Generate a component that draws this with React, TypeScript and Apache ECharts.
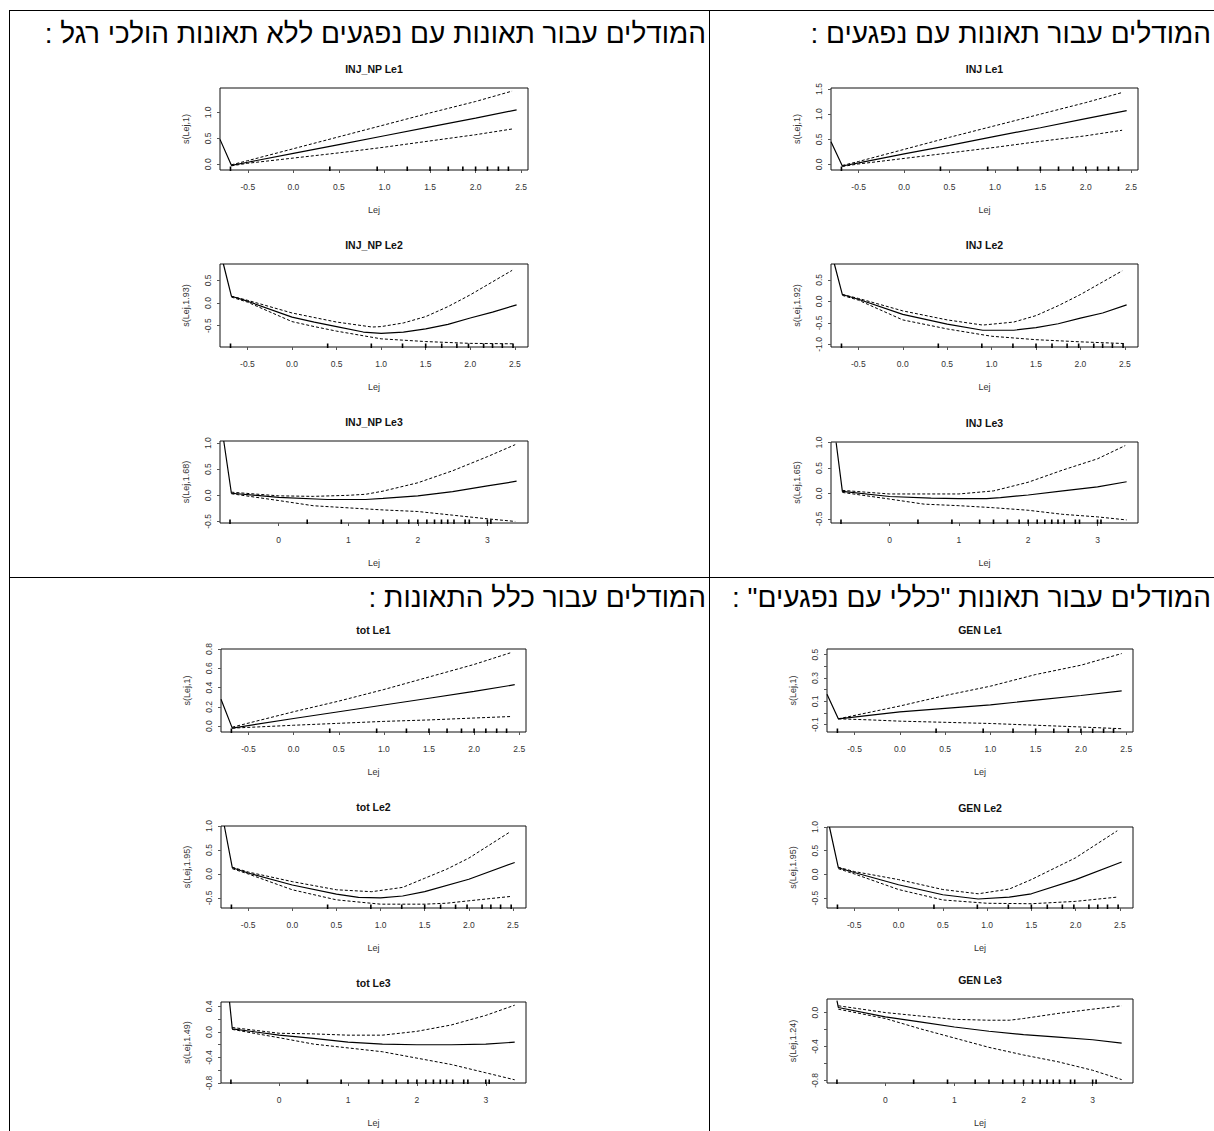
import React, { useEffect, useRef } from 'react';
import * as echarts from 'echarts';

const FONT = '"Liberation Sans", Arial, Helvetica, sans-serif';
const HEAD_FONT = '"Liberation Sans", Arial, sans-serif';
const RLM = '\u200F';

// Cell headings (Hebrew, right-to-left)
const headingInjNp = 'המודלים עבור תאונות עם נפגעים ללא תאונות הולכי רגל :';
const headingInj = 'המודלים עבור תאונות עם נפגעים :';
const headingTot = 'המודלים עבור כלל התאונות :';
const headingGen = 'המודלים עבור תאונות "כללי עם נפגעים" :';

// Axis ticks
const ticksLe12 = [-0.5, 0, 0.5, 1, 1.5, 2, 2.5];
const ticksLe3 = [0, 1, 2, 3];

// Rug (observed Lej values)
const rugLe1 = [-0.69, 0.4, 0.92, 1.25, 1.5, 1.7, 1.86, 2.0, 2.13, 2.25, 2.36];
const rugLe2 = [-0.69, 0.4, 0.89, 1.24, 1.5, 1.68, 1.85, 1.98, 2.15, 2.25, 2.36, 2.48];
const rugLe3 = [-0.7, 0.41, 0.9, 1.3, 1.5, 1.7, 1.87, 2.0, 2.13, 2.24, 2.34, 2.43, 2.52, 2.68, 2.74, 3.0, 3.05];

// INJ_NP smooths: [Lej, s(Lej)]
const injNpLe1Fit = [[-0.805, 0.48], [-0.68, -0.02], [-0.5, 0.04], [0, 0.21], [0.5, 0.38], [1, 0.55], [1.5, 0.72], [2, 0.89], [2.45, 1.05]];
const injNpLe1Upper = [[-0.68, -0.01], [-0.5, 0.07], [0, 0.3], [0.5, 0.53], [1, 0.76], [1.5, 0.99], [2, 1.21], [2.4, 1.41]];
const injNpLe1Lower = [[-0.68, -0.03], [-0.5, 0.02], [0, 0.12], [0.5, 0.22], [1, 0.33], [1.5, 0.45], [2, 0.57], [2.4, 0.68]];

const injNpLe2Fit = [[-0.77, 0.86], [-0.68, 0.15], [-0.5, 0.04], [0, -0.31], [0.25, -0.42], [0.5, -0.52], [0.8, -0.64], [1, -0.67], [1.25, -0.64], [1.5, -0.57], [1.75, -0.47], [2, -0.33], [2.25, -0.2], [2.52, -0.04]];
const injNpLe2Upper = [[-0.68, 0.15], [-0.5, 0.06], [0, -0.22], [0.5, -0.42], [0.9, -0.53], [1, -0.52], [1.25, -0.44], [1.5, -0.3], [1.75, -0.08], [2, 0.18], [2.47, 0.72]];
const injNpLe2Lower = [[-0.68, 0.13], [-0.5, 0.02], [0, -0.41], [0.25, -0.52], [0.5, -0.62], [1, -0.79], [1.5, -0.85], [2, -0.89], [2.5, -0.9]];

const injNpLe3Fit = [[-0.79, 1.04], [-0.68, 0.04], [0, -0.04], [0.7, -0.08], [1.25, -0.08], [1.5, -0.06], [2, -0.01], [2.5, 0.07], [3, 0.18], [3.42, 0.27]];
const injNpLe3Upper = [[-0.68, 0.06], [0, -0.01], [0.5, -0.02], [1, 0.0], [1.25, 0.02], [1.5, 0.08], [2, 0.24], [2.5, 0.47], [3, 0.74], [3.4, 0.97]];
const injNpLe3Lower = [[-0.68, 0.03], [0, -0.1], [0.5, -0.2], [1, -0.24], [1.5, -0.28], [2, -0.31], [2.5, -0.38], [3, -0.45], [3.4, -0.5]];

// INJ smooths
const injLe1Fit = [[-0.805, 0.45], [-0.68, -0.03], [-0.5, 0.03], [0, 0.21], [0.5, 0.38], [1, 0.56], [1.5, 0.73], [2, 0.91], [2.45, 1.07]];
const injLe1Upper = [[-0.68, -0.02], [-0.5, 0.06], [0, 0.3], [0.5, 0.54], [1, 0.77], [1.5, 1.0], [2, 1.23], [2.4, 1.43]];
const injLe1Lower = [[-0.68, -0.04], [-0.5, 0.01], [0, 0.12], [0.5, 0.23], [1, 0.34], [1.5, 0.46], [2, 0.57], [2.4, 0.68]];

const injLe2Fit = [[-0.77, 0.87], [-0.68, 0.16], [-0.5, 0.05], [0, -0.3], [0.5, -0.53], [0.9, -0.67], [1.25, -0.67], [1.5, -0.61], [1.75, -0.52], [2, -0.39], [2.25, -0.27], [2.52, -0.08]];
const injLe2Upper = [[-0.68, 0.16], [-0.5, 0.07], [0, -0.22], [0.5, -0.43], [0.9, -0.55], [1.25, -0.48], [1.5, -0.33], [1.75, -0.1], [2, 0.16], [2.47, 0.71]];
const injLe2Lower = [[-0.68, 0.14], [-0.5, 0.03], [0, -0.43], [0.5, -0.64], [1, -0.81], [1.5, -0.89], [2, -0.94], [2.5, -0.98]];

const injLe3Fit = [[-0.77, 1.0], [-0.68, 0.04], [0, -0.06], [0.6, -0.09], [1, -0.1], [1.4, -0.1], [1.6, -0.08], [2, -0.03], [2.5, 0.05], [3, 0.13], [3.42, 0.23]];
const injLe3Upper = [[-0.68, 0.06], [0, -0.01], [1, -0.01], [1.5, 0.05], [2, 0.22], [2.5, 0.46], [3, 0.68], [3.4, 0.94]];
const injLe3Lower = [[-0.68, 0.02], [0, -0.11], [0.5, -0.21], [1, -0.24], [1.5, -0.28], [2, -0.33], [2.5, -0.41], [3, -0.46], [3.42, -0.52]];

// tot smooths
const totLe1Fit = [[-0.805, 0.28], [-0.68, -0.02], [0, 0.08], [0.5, 0.15], [1, 0.22], [1.5, 0.29], [2, 0.36], [2.45, 0.43]];
const totLe1Upper = [[-0.68, -0.01], [0, 0.15], [0.5, 0.26], [1, 0.38], [1.5, 0.51], [2, 0.64], [2.4, 0.76]];
const totLe1Lower = [[-0.68, -0.02], [0, 0.01], [0.5, 0.03], [1, 0.05], [1.5, 0.065], [2, 0.085], [2.4, 0.1]];

const totLe2Fit = [[-0.77, 1.0], [-0.68, 0.13], [-0.5, 0.02], [0, -0.23], [0.5, -0.42], [0.75, -0.49], [1, -0.5], [1.25, -0.46], [1.5, -0.37], [2, -0.11], [2.52, 0.24]];
const totLe2Upper = [[-0.68, 0.14], [-0.5, 0.04], [0, -0.16], [0.5, -0.33], [0.9, -0.37], [1.25, -0.28], [1.5, -0.09], [1.75, 0.1], [2, 0.33], [2.47, 0.88]];
const totLe2Lower = [[-0.68, 0.11], [-0.5, 0.0], [0, -0.33], [0.5, -0.54], [1, -0.63], [1.5, -0.63], [1.75, -0.61], [2, -0.56], [2.47, -0.47]];

const totLe3Fit = [[-0.72, 0.47], [-0.68, 0.05], [0, -0.05], [0.5, -0.1], [1, -0.16], [1.5, -0.19], [2, -0.2], [2.5, -0.2], [3, -0.19], [3.42, -0.16]];
const totLe3Upper = [[-0.68, 0.07], [0, -0.02], [0.5, -0.03], [1, -0.05], [1.5, -0.05], [2, 0.01], [2.5, 0.11], [3, 0.26], [3.42, 0.42]];
const totLe3Lower = [[-0.68, 0.04], [0, -0.09], [0.5, -0.19], [1, -0.25], [1.5, -0.31], [2, -0.41], [2.5, -0.51], [3, -0.64], [3.42, -0.75]];

// GEN smooths
const genLe1Fit = [[-0.805, 0.16], [-0.68, -0.05], [0, 0.01], [0.5, 0.04], [1, 0.07], [1.5, 0.11], [2, 0.15], [2.45, 0.19]];
const genLe1Upper = [[-0.68, -0.05], [0, 0.06], [0.5, 0.15], [1, 0.23], [1.5, 0.33], [2, 0.41], [2.45, 0.51]];
const genLe1Lower = [[-0.68, -0.05], [-0.3, -0.06], [0, -0.07], [0.5, -0.08], [1, -0.09], [1.5, -0.105], [2, -0.12], [2.45, -0.135]];

const genLe2Fit = [[-0.78, 1.0], [-0.68, 0.14], [-0.5, 0.04], [0, -0.22], [0.5, -0.43], [0.9, -0.52], [1.25, -0.48], [1.5, -0.41], [2, -0.11], [2.52, 0.26]];
const genLe2Upper = [[-0.68, 0.15], [-0.5, 0.06], [0, -0.11], [0.5, -0.32], [0.9, -0.41], [1.25, -0.31], [1.5, -0.11], [2, 0.35], [2.47, 0.92]];
const genLe2Lower = [[-0.68, 0.12], [-0.5, 0.01], [0, -0.32], [0.5, -0.54], [1, -0.61], [1.5, -0.62], [2, -0.57], [2.47, -0.48]];

const genLe3Fit = [[-0.7, 0.14], [-0.68, 0.06], [0, -0.05], [0.5, -0.11], [1, -0.17], [1.5, -0.22], [2, -0.26], [2.5, -0.29], [3, -0.32], [3.42, -0.36]];
const genLe3Upper = [[-0.68, 0.08], [0, 0.0], [0.5, -0.04], [1, -0.08], [1.5, -0.09], [1.8, -0.09], [2, -0.07], [2.5, -0.01], [3, 0.04], [3.42, 0.08]];
const genLe3Lower = [[-0.68, 0.04], [0, -0.07], [0.5, -0.19], [1, -0.3], [1.5, -0.41], [2, -0.5], [2.5, -0.58], [3, -0.68], [3.42, -0.79]];

// Panel specs: cell 0 = top-left, 1 = top-right, 2 = bottom-left, 3 = bottom-right
const panels = [
  { cell: 0, row: 0, title: 'INJ_NP Le1', yName: 's(Lej,1)', x: [-0.805, 2.575], xTicks: ticksLe12, xDigits: 1, y: [-0.11, 1.47], yTicks: [0, 0.5, 1], yLabels: [0, 0.5, 1], fit: injNpLe1Fit, upper: injNpLe1Upper, lower: injNpLe1Lower, rug: rugLe1 },
  { cell: 0, row: 1, title: 'INJ_NP Le2', yName: 's(Lej,1.93)', x: [-0.808, 2.648], xTicks: ticksLe12, xDigits: 1, y: [-0.97, 0.86], yTicks: [-0.5, 0, 0.5], yLabels: [-0.5, 0, 0.5], fit: injNpLe2Fit, upper: injNpLe2Upper, lower: injNpLe2Lower, rug: rugLe2 },
  { cell: 0, row: 2, title: 'INJ_NP Le3', yName: 's(Lej,1.68)', x: [-0.844, 3.584], xTicks: ticksLe3, xDigits: 0, y: [-0.53, 1.04], yTicks: [-0.5, 0, 0.5, 1], yLabels: [-0.5, 0, 0.5, 1], fit: injNpLe3Fit, upper: injNpLe3Upper, lower: injNpLe3Lower, rug: rugLe3 },
  { cell: 1, row: 0, title: 'INJ Le1', yName: 's(Lej,1)', x: [-0.805, 2.575], xTicks: ticksLe12, xDigits: 1, y: [-0.11, 1.52], yTicks: [0, 0.5, 1, 1.5], yLabels: [0, 0.5, 1, 1.5], fit: injLe1Fit, upper: injLe1Upper, lower: injLe1Lower, rug: rugLe1 },
  { cell: 1, row: 1, title: 'INJ Le2', yName: 's(Lej,1.92)', x: [-0.808, 2.648], xTicks: ticksLe12, xDigits: 1, y: [-1.06, 0.87], yTicks: [-1, -0.5, 0, 0.5], yLabels: [-1, -0.5, 0, 0.5], fit: injLe2Fit, upper: injLe2Upper, lower: injLe2Lower, rug: rugLe2 },
  { cell: 1, row: 2, title: 'INJ Le3', yName: 's(Lej,1.65)', x: [-0.844, 3.584], xTicks: ticksLe3, xDigits: 0, y: [-0.58, 1.01], yTicks: [-0.5, 0, 0.5, 1], yLabels: [-0.5, 0, 0.5, 1], fit: injLe3Fit, upper: injLe3Upper, lower: injLe3Lower, rug: rugLe3 },
  { cell: 2, row: 0, title: 'tot Le1', yName: 's(Lej,1)', x: [-0.805, 2.575], xTicks: ticksLe12, xDigits: 1, y: [-0.06, 0.8], yTicks: [0, 0.2, 0.4, 0.6, 0.8], yLabels: [0, 0.2, 0.4, 0.6, 0.8], fit: totLe1Fit, upper: totLe1Upper, lower: totLe1Lower, rug: rugLe1 },
  { cell: 2, row: 1, title: 'tot Le2', yName: 's(Lej,1.95)', x: [-0.808, 2.648], xTicks: ticksLe12, xDigits: 1, y: [-0.71, 1.0], yTicks: [-0.5, 0, 0.5, 1], yLabels: [-0.5, 0, 0.5, 1], fit: totLe2Fit, upper: totLe2Upper, lower: totLe2Lower, rug: rugLe2 },
  { cell: 2, row: 2, title: 'tot Le3', yName: 's(Lej,1.49)', x: [-0.844, 3.584], xTicks: ticksLe3, xDigits: 0, y: [-0.8, 0.47], yTicks: [-0.8, -0.6, -0.4, -0.2, 0, 0.2, 0.4], yLabels: [-0.8, -0.4, 0, 0.4], fit: totLe3Fit, upper: totLe3Upper, lower: totLe3Lower, rug: rugLe3 },
  { cell: 3, row: 0, title: 'GEN Le1', yName: 's(Lej,1)', x: [-0.805, 2.575], xTicks: ticksLe12, xDigits: 1, y: [-0.163, 0.549], yTicks: [-0.1, 0, 0.1, 0.2, 0.3, 0.4, 0.5], yLabels: [-0.1, 0.1, 0.3, 0.5], fit: genLe1Fit, upper: genLe1Upper, lower: genLe1Lower, rug: rugLe1 },
  { cell: 3, row: 1, title: 'GEN Le2', yName: 's(Lej,1.95)', x: [-0.808, 2.648], xTicks: ticksLe12, xDigits: 1, y: [-0.71, 1.0], yTicks: [-0.5, 0, 0.5, 1], yLabels: [-0.5, 0, 0.5, 1], fit: genLe2Fit, upper: genLe2Upper, lower: genLe2Lower, rug: rugLe2 },
  { cell: 3, row: 2, title: 'GEN Le3', yName: 's(Lej,1.24)', x: [-0.844, 3.584], xTicks: ticksLe3, xDigits: 0, y: [-0.83, 0.16], yTicks: [-0.8, -0.6, -0.4, -0.2, 0], yLabels: [-0.8, -0.4, 0], fit: genLe3Fit, upper: genLe3Upper, lower: genLe3Lower, rug: rugLe3 },
];

// Page layout (pixels)
const plotLeft = [220, 831, 221, 827];
const plotWidth = [308, 307, 305, 306];
const plotTops = [[88, 264, 441], [88, 264, 442], [649, 826, 1002], [649, 827, 999]];
const plotBottoms = [[170, 347, 523], [170, 347, 523], [732, 908, 1083], [732, 908, 1083]];

const W = 1214;
const H = 1131;

function buildOption() {
  const grid: any[] = [];
  const xAxis: any[] = [];
  const yAxis: any[] = [];
  const series: any[] = [];
  const graphic: any[] = [];

  // table rules
  const rule = (x1: number, y1: number, x2: number, y2: number) => ({
    type: 'line',
    silent: true,
    shape: { x1, y1, x2, y2 },
    style: { stroke: '#000', lineWidth: 1 },
  });
  graphic.push(rule(9, 10.5, W, 10.5));
  graphic.push(rule(9.5, 10, 9.5, H));
  graphic.push(rule(709.5, 10, 709.5, H));
  graphic.push(rule(9, 577.5, W, 577.5));

  const heading = (text: string, x: number, y: number) => ({
    type: 'text',
    silent: true,
    x,
    y,
    style: {
      text: text + RLM,
      fill: '#000',
      font: `28px ${HEAD_FONT}`,
      fontSize: 28,
      fontFamily: HEAD_FONT,
      align: 'right',
      textAlign: 'right',
      verticalAlign: 'middle',
      textVerticalAlign: 'middle',
    },
  });
  graphic.push(heading(headingInjNp, 706, 33));
  graphic.push(heading(headingInj, 1211, 33));
  graphic.push(heading(headingTot, 706, 597));
  graphic.push(heading(headingGen, 1211, 597));

  panels.forEach((p, i) => {
    const left = plotLeft[p.cell];
    const width = plotWidth[p.cell];
    const top = plotTops[p.cell][p.row];
    const height = plotBottoms[p.cell][p.row] - top;

    grid.push({
      left,
      top,
      width,
      height,
      show: true,
      borderColor: '#111',
      borderWidth: 1,
      backgroundColor: 'transparent',
      containLabel: false,
      outerBoundsMode: 'none',
    });

    xAxis.push({
      type: 'value',
      gridIndex: i,
      position: 'bottom',
      min: p.x[0],
      max: p.x[1],
      name: 'Lej',
      nameLocation: 'middle',
      nameGap: 35,
      nameTextStyle: { fontSize: 9, fontFamily: FONT, color: '#333' },
      axisLine: { show: false, onZero: false },
      splitLine: { show: false },
      axisTick: { show: true, length: 3, customValues: p.xTicks, lineStyle: { color: '#555', width: 1 } },
      axisLabel: {
        customValues: p.xTicks,
        margin: 12,
        fontSize: 8.5,
        fontFamily: FONT,
        color: '#333',
        formatter: (v: number) => v.toFixed(p.xDigits),
      },
    });

    yAxis.push({
      type: 'value',
      gridIndex: i,
      position: 'left',
      min: p.y[0],
      max: p.y[1],
      name: p.yName,
      nameLocation: 'middle',
      nameGap: 30,
      nameTextStyle: { fontSize: 9, fontFamily: FONT, color: '#333' },
      axisLine: { show: false, onZero: false },
      splitLine: { show: false },
      axisTick: { show: true, length: 3, customValues: p.yTicks, lineStyle: { color: '#555', width: 1 } },
      axisLabel: {
        customValues: p.yLabels,
        rotate: 90,
        margin: 8,
        fontSize: 8.5,
        fontFamily: FONT,
        color: '#333',
        formatter: (v: number) => v.toFixed(1),
      },
    });

    series.push({
      type: 'line',
      xAxisIndex: i,
      yAxisIndex: i,
      data: p.fit,
      showSymbol: false,
      symbol: 'none',
      silent: true,
      clip: true,
      lineStyle: { color: '#000', width: 1.2, type: 'solid' },
    });
    [p.upper, p.lower].forEach((band) => {
      series.push({
        type: 'line',
        xAxisIndex: i,
        yAxisIndex: i,
        data: band,
        showSymbol: false,
        symbol: 'none',
        silent: true,
        clip: true,
        lineStyle: { color: '#000', width: 1, type: [3, 2] },
      });
    });

    // rug along the bottom edge
    series.push({
      type: 'custom',
      xAxisIndex: i,
      yAxisIndex: i,
      silent: true,
      data: p.rug.map((v) => [v, p.y[0]]),
      renderItem: (_params: any, api: any) => {
        const pt = api.coord([api.value(0), api.value(1)]);
        return {
          type: 'line',
          shape: { x1: pt[0], y1: pt[1] + 1, x2: pt[0], y2: pt[1] - 3.5 },
          style: { stroke: '#000', lineWidth: 1.6 },
        };
      },
    });

    graphic.push({
      type: 'text',
      silent: true,
      x: left + width / 2,
      y: top - 19,
      style: {
        text: p.title,
        fill: '#111',
        font: `bold 10.5px ${FONT}`,
        fontSize: 10.5,
        fontWeight: 'bold',
        fontFamily: FONT,
        align: 'center',
        textAlign: 'center',
        verticalAlign: 'middle',
        textVerticalAlign: 'middle',
      },
    });
  });

  return {
    animation: false,
    backgroundColor: '#fff',
    textStyle: { fontFamily: FONT },
    grid,
    xAxis,
    yAxis,
    series,
    graphic: { elements: graphic },
  };
}

export default function App() {
  const ref = useRef<HTMLDivElement>(null);

  useEffect(() => {
    if (!ref.current) return;
    const chart = echarts.init(ref.current, undefined, { renderer: 'svg' });
    chart.setOption(buildOption() as any);
    return () => chart.dispose();
  }, []);

  return (
    <div
      ref={ref}
      style={{ position: 'absolute', left: 0, top: 0, width: W, height: H, background: '#fff' }}
    />
  );
}
